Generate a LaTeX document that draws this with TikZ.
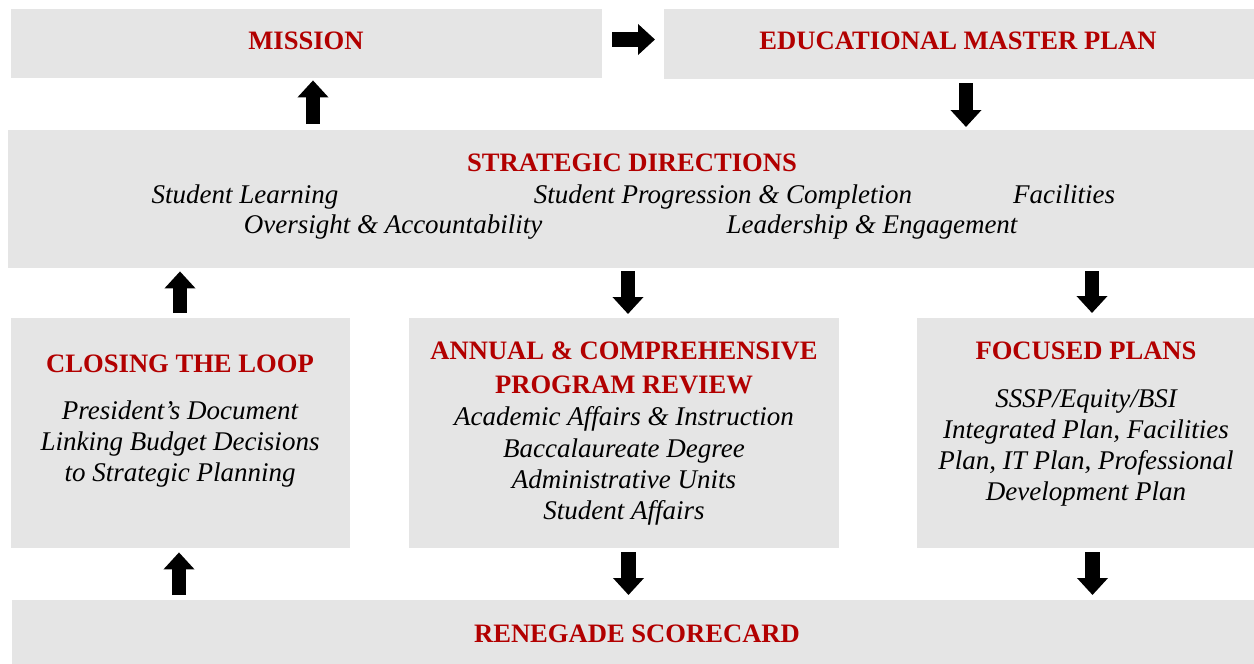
\documentclass[tikz,border=0pt]{standalone}
\usepackage{fontspec}
\setmainfont{Liberation Serif}
\usetikzlibrary{arrows.meta}
\definecolor{boxgray}{RGB}{229,229,229}
\definecolor{titlered}{RGB}{178,0,0}
\begin{document}
\begin{tikzpicture}[x=1pt,y=-1pt,
  panel/.style={fill=boxgray, draw=none, inner sep=0pt, anchor=north west},
  title/.style={font=\bfseries\fontsize{26.6}{30}\selectfont, text=titlered, inner sep=0pt, anchor=base},
  body/.style={font=\itshape\fontsize{27}{31}\selectfont, text=black, inner sep=0pt, anchor=base},
  blockarrow/.style={line width=14.5pt, black, -{Triangle[length=17pt,width=30pt]}}]
\useasboundingbox (0,0) rectangle (1254,664);

% panels
\node[panel, minimum width=591pt, minimum height=69pt] (mission) at (11,9) {};
\node[panel, minimum width=590pt, minimum height=70pt] (emp) at (664,9) {};
\node[panel, minimum width=1246pt, minimum height=138pt] (sd) at (8,130) {};
\node[panel, minimum width=339pt, minimum height=230pt] (loop) at (11,318) {};
\node[panel, minimum width=430pt, minimum height=230pt] (review) at (409,318) {};
\node[panel, minimum width=337pt, minimum height=230pt] (focus) at (917,318) {};
\node[panel, minimum width=1242pt, minimum height=64pt] (score) at (12,600) {};

% titles
\node[title] (missionT) at (306,49) {MISSION};
\node[title] (empT) at (958,49) {EDUCATIONAL MASTER PLAN};
\node[title] (sdT) at (632,171) {STRATEGIC DIRECTIONS};
\node[title] (loopT) at (180,372) {CLOSING THE LOOP};
\node[title] (reviewT1) at (624,359) {ANNUAL \& COMPREHENSIVE};
\node[title] (reviewT2) at (624,393) {PROGRAM REVIEW};
\node[title] (focusT) at (1086,359) {FOCUSED PLANS};
\node[title] (scoreT) at (637,642) {RENEGADE SCORECARD};

% strategic directions
\node[body] (sd1) at (245,203) {Student Learning};
\node[body] (sd2) at (723,203) {Student Progression \& Completion};
\node[body] (sd3) at (1064,203) {Facilities};
\node[body] (sd4) at (393,233) {Oversight \& Accountability};
\node[body] (sd5) at (872,233) {Leadership \& Engagement};

% closing the loop
\node[body] (loop1) at (180,419) {President’s Document};
\node[body] (loop2) at (180,450) {Linking Budget Decisions};
\node[body] (loop3) at (180,481) {to Strategic Planning};

% program review
\node[body] (rev1) at (624,425) {Academic Affairs \& Instruction};
\node[body] (rev2) at (624,457) {Baccalaureate Degree};
\node[body] (rev3) at (624,488) {Administrative Units};
\node[body] (rev4) at (624,519) {Student Affairs};

% focused plans
\node[body] (foc1) at (1086,407) {SSSP/Equity/BSI};
\node[body] (foc2) at (1086,438) {Integrated Plan, Facilities};
\node[body] (foc3) at (1086,469) {Plan, IT Plan, Professional};
\node[body] (foc4) at (1086,500) {Development Plan};

% connectors
\draw[blockarrow, shorten <=10pt, shorten >=9pt] (mission.east |- 0,39.5) -- (emp.west |- 0,39.5);
\draw[blockarrow, shorten <=6pt, shorten >=2pt] (sd.north -| 313,0) -- (mission.south -| 313,0);
\draw[blockarrow, shorten <=4pt, shorten >=3pt] (emp.south -| 966,0) -- (sd.north -| 966,0);
\draw[blockarrow, shorten <=5pt, shorten >=3pt] (loop.north -| 180,0) -- (sd.south -| 180,0);
\draw[blockarrow, shorten <=3pt, shorten >=4pt] (sd.south -| 628,0) -- (review.north -| 628,0);
\draw[blockarrow, shorten <=3pt, shorten >=5pt] (sd.south -| 1092,0) -- (focus.north -| 1092,0);
\draw[blockarrow, shorten <=5pt, shorten >=4pt] (score.north -| 179,0) -- (loop.south -| 179,0);
\draw[blockarrow, shorten <=4pt, shorten >=5pt] (review.south -| 628.5,0) -- (score.north -| 628.5,0);
\draw[blockarrow, shorten <=4pt, shorten >=5pt] (focus.south -| 1092.5,0) -- (score.north -| 1092.5,0);
\end{tikzpicture}
\end{document}
